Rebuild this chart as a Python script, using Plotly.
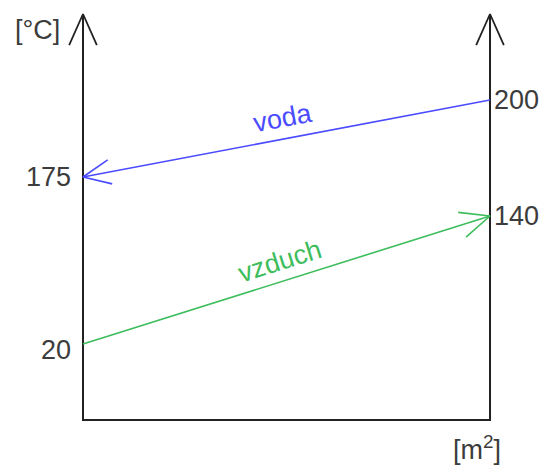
import math
import plotly.graph_objects as go

# heat exchanger sketch: water cools, air heats along the area
area = [0, 1]
voda_temp = [175, 200]
vzduch_temp = [20, 140]
# schematic drawing level of each temperature (the sketch is not to scale)
level = {200: 320, 175: 243, 140: 204, 20: 76}
top_level = 406

W, H = 541, 468
X0, X1 = 83, 490          # pixel columns of the two temperature axes
Y0 = 420                  # pixel row of the area axis
PX_X = X1 - X0            # pixels per unit of area

FONT_NUM = dict(family="Liberation Sans", size=27, color="#3c3c3c")
AXIS_COL = "#222222"
BLUE = "#4b4bff"
GREEN = "#3dbd5c"


def head(x0, y0, x1, y1, length, half=24):
    # open arrowhead with its tip at (x0, y0), pointing away from (x1, y1)
    ang = math.atan2(y1 - y0, (x1 - x0) * PX_X)
    xs, ys = [], []
    for s in (1, 0, -1):
        if s == 0:
            xs.append(x0); ys.append(y0)
            continue
        a = ang + s * math.radians(half)
        xs.append(x0 + length * math.cos(a) / PX_X)
        ys.append(y0 + length * math.sin(a))
    return xs, ys


fig = go.Figure()

def add_line(xs, ys, color, width=1.6):
    fig.add_trace(go.Scatter(x=xs, y=ys, mode="lines",
                             line=dict(color=color, width=width),
                             hoverinfo="skip", showlegend=False))

# the three axes
add_line([area[0], area[0], area[1], area[1]], [top_level, 0, 0, top_level],
         AXIS_COL, 2)
for xa in area:
    hx, hy = head(xa, top_level, xa, 0, 34)
    add_line(hx, hy, AXIS_COL, 1.8)

vy = [level[t] for t in voda_temp]
zy = [level[t] for t in vzduch_temp]

# voda flows from right to left, vzduch from left to right
add_line(area, vy, BLUE)
hx, hy = head(area[0], vy[0], area[1], vy[1], 30)
add_line(hx, hy, BLUE)

add_line(area, zy, GREEN)
hx, hy = head(area[1], zy[1], area[0], zy[0], 32)
add_line(hx, hy, GREEN)


def line_label(text, ys, color, offset):
    ang = math.degrees(math.atan2(ys[1] - ys[0], (area[1] - area[0]) * PX_X))
    xm = (area[0] + area[1]) / 2
    ym = (ys[0] + ys[1]) / 2
    fig.add_annotation(x=xm, y=ym, text=text, showarrow=False,
                       textangle=-ang,
                       xshift=-offset * math.sin(math.radians(ang)),
                       yshift=offset * math.cos(math.radians(ang)),
                       font=dict(family="Liberation Sans", size=27, color=color))


line_label("voda", vy, BLUE, 21)
line_label("vzduch", zy, GREEN, 20)

# temperature labels at the ends of the lines
for x, t, side in [(area[0], voda_temp[0], "right"),
                   (area[0], vzduch_temp[0], "right"),
                   (area[1], voda_temp[1], "left"),
                   (area[1], vzduch_temp[1], "left")]:
    fig.add_annotation(x=x, y=level[t], text=str(t), showarrow=False,
                       xanchor=side, xshift=-10 if side == "right" else 2,
                       yshift=-6 if t == vzduch_temp[0] else 0,
                       font=FONT_NUM)

fig.add_annotation(x=-46 / PX_X, y=top_level - 16, text="[°C]",
                   showarrow=False, font=FONT_NUM)
fig.add_annotation(x=1 - 13 / PX_X, y=-28, text="[m<sup>2</sup>]",
                   showarrow=False, font=FONT_NUM)

fig.update_layout(
    width=W, height=H,
    margin=dict(l=0, r=0, t=0, b=0),
    plot_bgcolor="white", paper_bgcolor="white",
    xaxis=dict(range=[-X0 / PX_X, (W - X0) / PX_X], visible=False),
    yaxis=dict(range=[Y0 - H, Y0], visible=False),
)

# drop the page's default 8px body margin so the figure fills the window
fig.write_html("out.html", config={"displayModeBar": False},
               post_script="document.body.style.margin = '0';")
